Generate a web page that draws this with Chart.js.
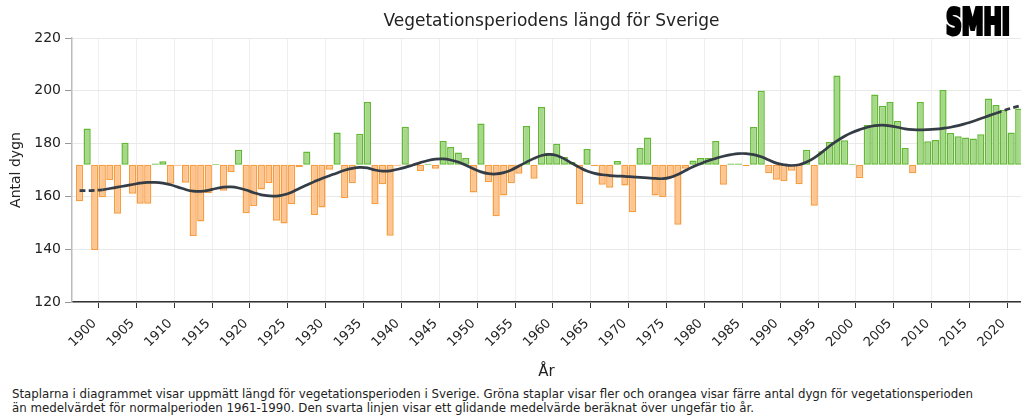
<!DOCTYPE html>
<html>
<head>
<meta charset="utf-8">
<script src="https://cdn.jsdelivr.net/npm/chart.js@4.4.1/dist/chart.umd.min.js"></script>
<style>
  body { margin: 0; background: #fff; font-family: 'DejaVu Sans', sans-serif; }
  #wrap { position: relative; width: 1021px; height: 384px; }
  #caption { position: absolute; left: 12px; top: 387px; font-size: 11.8px; line-height: 14px; color: #222; white-space: nowrap; }
</style>
</head>
<body>
<div id="wrap"><canvas id="chart" width="1021" height="384"></canvas></div>
<div id="caption">Staplarna i diagrammet visar uppmätt längd för vegetationsperioden i Sverige. Gröna staplar visar fler och orangea visar färre antal dygn för vegetationsperioden<br>än medelvärdet för normalperioden 1961-1990. Den svarta linjen visar ett glidande medelvärde beräknat över ungefär tio år.</div>
<script>
// ---------- Data ----------
const years = [
  1900, 1901, 1902, 1903, 1904, 1905, 1906, 1907, 1908, 1909,
  1910, 1911, 1912, 1913, 1914, 1915, 1916, 1917, 1918, 1919,
  1920, 1921, 1922, 1923, 1924, 1925, 1926, 1927, 1928, 1929,
  1930, 1931, 1932, 1933, 1934, 1935, 1936, 1937, 1938, 1939,
  1940, 1941, 1942, 1943, 1944, 1945, 1946, 1947, 1948, 1949,
  1950, 1951, 1952, 1953, 1954, 1955, 1956, 1957, 1958, 1959,
  1960, 1961, 1962, 1963, 1964, 1965, 1966, 1967, 1968, 1969,
  1970, 1971, 1972, 1973, 1974, 1975, 1976, 1977, 1978, 1979,
  1980, 1981, 1982, 1983, 1984, 1985, 1986, 1987, 1988, 1989,
  1990, 1991, 1992, 1993, 1994, 1995, 1996, 1997, 1998, 1999,
  2000, 2001, 2002, 2003, 2004, 2005, 2006, 2007, 2008, 2009,
  2010, 2011, 2012, 2013, 2014, 2015, 2016, 2017, 2018, 2019,
  2020, 2021, 2022, 2023, 2024
];

// measured length of the growing season (days)
const seasonDays = [
  158.2, 185.7, 139.7, 159.7, 166.2, 153.4, 180.3, 161.0, 157.2, 157.2,
  172.5, 173.3, 164.8, 171.6, 165.2, 145.0, 150.5, 161.3, 172.3, 162.1,
  169.2, 177.7, 153.6, 156.3, 162.6, 165.0, 150.8, 149.7, 157.0, 171.0,
  177.0, 153.0, 155.8, 170.1, 184.2, 159.3, 165.0, 183.7, 195.8, 157.0,
  164.6, 145.1, 171.6, 186.4, 172.0, 169.6, 172.4, 170.5, 181.0, 178.7,
  176.6, 174.5, 161.5, 187.6, 165.4, 152.5, 160.3, 165.0, 168.6, 186.7,
  166.7, 193.9, 176.4, 179.9, 174.9, 173.0, 157.0, 178.0, 171.5, 164.4,
  163.3, 173.4, 164.1, 154.0, 178.3, 182.3, 160.3, 159.7, 167.0, 149.3,
  170.5, 173.6, 174.5, 174.5, 181.0, 164.4, 172.5, 172.5, 171.4, 186.3,
  200.0, 168.8, 166.3, 165.8, 169.7, 164.6, 177.7, 156.5, 177.1, 180.6,
  205.8, 181.3, 172.3, 166.9, 187.0, 198.6, 194.3, 195.8, 188.6, 178.3,
  168.8, 195.8, 180.9, 181.4, 200.3, 184.0, 182.8, 182.3, 181.9, 183.5,
  197.1, 194.6, 192.7, 184.2, 193.3
];

// ~10 year running mean
const runningMean = [
  162.2, 162.2, 162.3, 162.5, 163.0, 163.5, 164.0, 164.5, 165.0, 165.3,
  165.3, 165.0, 164.4, 163.5, 162.6, 162.0, 161.9, 162.3, 163.0, 163.5,
  163.6, 163.2, 162.4, 161.4, 160.6, 160.2, 160.1, 160.6, 161.6, 163.0,
  164.3, 165.6, 166.8, 167.8, 168.9, 169.9, 170.6, 171.0, 170.8, 170.0,
  169.6, 169.7, 170.3, 171.0, 171.9, 172.8, 173.6, 174.1, 174.2, 173.8,
  173.0, 171.8, 170.5, 169.3, 168.6, 168.5, 169.0, 170.0, 171.5, 173.0,
  174.4, 175.5, 175.9, 175.5, 174.2, 172.6, 171.0, 169.6, 168.7, 168.2,
  167.9, 167.7, 167.6, 167.4, 167.2, 167.0, 166.8, 166.7, 167.2, 168.3,
  169.8, 171.2, 172.4, 173.5, 174.4, 175.2, 175.8, 176.2, 176.2, 175.8,
  175.0, 173.8, 172.6, 172.0, 171.7, 172.0, 173.0, 174.6, 176.7, 179.0,
  181.0, 182.8, 184.2, 185.3, 186.2, 186.8, 187.0, 186.7, 186.2, 185.6,
  185.3, 185.2, 185.3, 185.5, 185.8, 186.2, 186.8, 187.6, 188.5, 189.5,
  190.5, 191.5, 192.5, 193.4, 194.2
];

// mean for the normal period 1961-1990
const normalMean = 172;

const xTicks = [1900, 1905, 1910, 1915, 1920, 1925, 1930, 1935, 1940, 1945, 1950, 1955, 1960,
                1965, 1970, 1975, 1980, 1985, 1990, 1995, 2000, 2005, 2010, 2015, 2020];
const yTicks = [120, 140, 160, 180, 200, 220];

// ---------- Colours ----------
const greenFill = '#a6d88a';
const greenLine = '#62b833';
const orangeFill = '#fdc591';
const orangeLine = '#f79c3f';
const lineColor = '#343c46';

const barData = years.map((y, i) => ({ x: y, y: seasonDays[i] }));
const meanData = years.map((y, i) => ({ x: y, y: runningMean[i] }));

// dashed ends of the running mean
const dashedSeg = ctx => (ctx.p0.parsed.x < 1903 || ctx.p1.parsed.x > 2021) ? [6, 3] : undefined;

// title + logo
const decorations = {
  id: 'decorations',
  afterDraw(chart) {
    const c = chart.ctx;
    const a = chart.chartArea;
    c.save();
    c.fillStyle = '#222';
    c.font = '17px "DejaVu Sans"';
    c.textAlign = 'center';
    c.textBaseline = 'middle';
    c.fillText('Vegetationsperiodens längd för Sverige', (a.left + a.right) / 2 + 5, 22);

    // SMHI logo, condensed heavy text
    c.font = 'bold 36px "DejaVu Sans"';
    c.textAlign = 'left';
    c.textBaseline = 'alphabetic';
    c.fillStyle = '#000';
    c.strokeStyle = '#000';
    c.lineJoin = 'miter';
    const w = c.measureText('SMHI').width;
    c.translate(946, 34);
    c.scale(64 / w, 1);
    c.lineWidth = 4;
    c.strokeText('SMHI', 0, 0);
    c.fillText('SMHI', 0, 0);
    c.restore();
  }
};

const ctx = document.getElementById('chart').getContext('2d');

new Chart(ctx, {
  type: 'bar',
  data: {
    datasets: [
      {
        type: 'line',
        data: meanData,
        borderColor: lineColor,
        borderWidth: 2.7,
        pointRadius: 0,
        tension: 0.4,
        fill: false,
        order: 0,
        segment: { borderDash: dashedSeg }
      },
      {
        type: 'bar',
        data: barData,
        base: normalMean,
        backgroundColor: c => (c.raw && c.raw.y >= normalMean) ? greenFill : orangeFill,
        borderColor: c => (c.raw && c.raw.y >= normalMean) ? greenLine : orangeLine,
        borderWidth: 1.5,
        borderSkipped: false,
        categoryPercentage: 1,
        barPercentage: 0.95,
        order: 1
      }
    ]
  },
  options: {
    responsive: false,
    animation: false,
    layout: { padding: { top: 38, right: 0, bottom: 1, left: 0 } },
    plugins: {
      legend: { display: false },
      tooltip: { enabled: false },
      title: { display: false }
    },
    scales: {
      x: {
        type: 'linear',
        min: 1899,
        max: 2024.3,
        offset: false,
        afterBuildTicks: s => { s.ticks = xTicks.map(v => ({ value: v })); },
        afterFit: s => { s.height = 81; },
        ticks: {
          autoSkip: false,
          minRotation: 45,
          maxRotation: 45,
          labelOffset: 15,
          padding: 8,
          color: '#222',
          font: { family: 'DejaVu Sans', size: 13 },
          callback: v => String(v)
        },
        grid: { color: '#efefef', tickColor: '#333', tickLength: 6 },
        border: { color: '#333', width: 1.5 },
        title: {
          display: true,
          text: 'År',
          color: '#222',
          font: { family: 'DejaVu Sans', size: 15 },
          padding: { top: 0, bottom: 2 }
        }
      },
      y: {
        min: 120,
        max: 220,
        afterBuildTicks: s => { s.ticks = yTicks.map(v => ({ value: v })); },
        afterFit: s => { s.width = 72; },
        ticks: {
          color: '#222',
          padding: 4,
          font: { family: 'DejaVu Sans', size: 14 }
        },
        grid: { color: '#e9e9e9', tickColor: '#999', tickLength: 7 },
        border: { color: '#bbb', width: 1.5 },
        title: {
          display: true,
          text: 'Antal dygn',
          color: '#222',
          font: { family: 'DejaVu Sans', size: 14 },
          padding: { top: 8, bottom: 0 }
        }
      }
    }
  },
  plugins: [decorations]
});
</script>
</body>
</html>
